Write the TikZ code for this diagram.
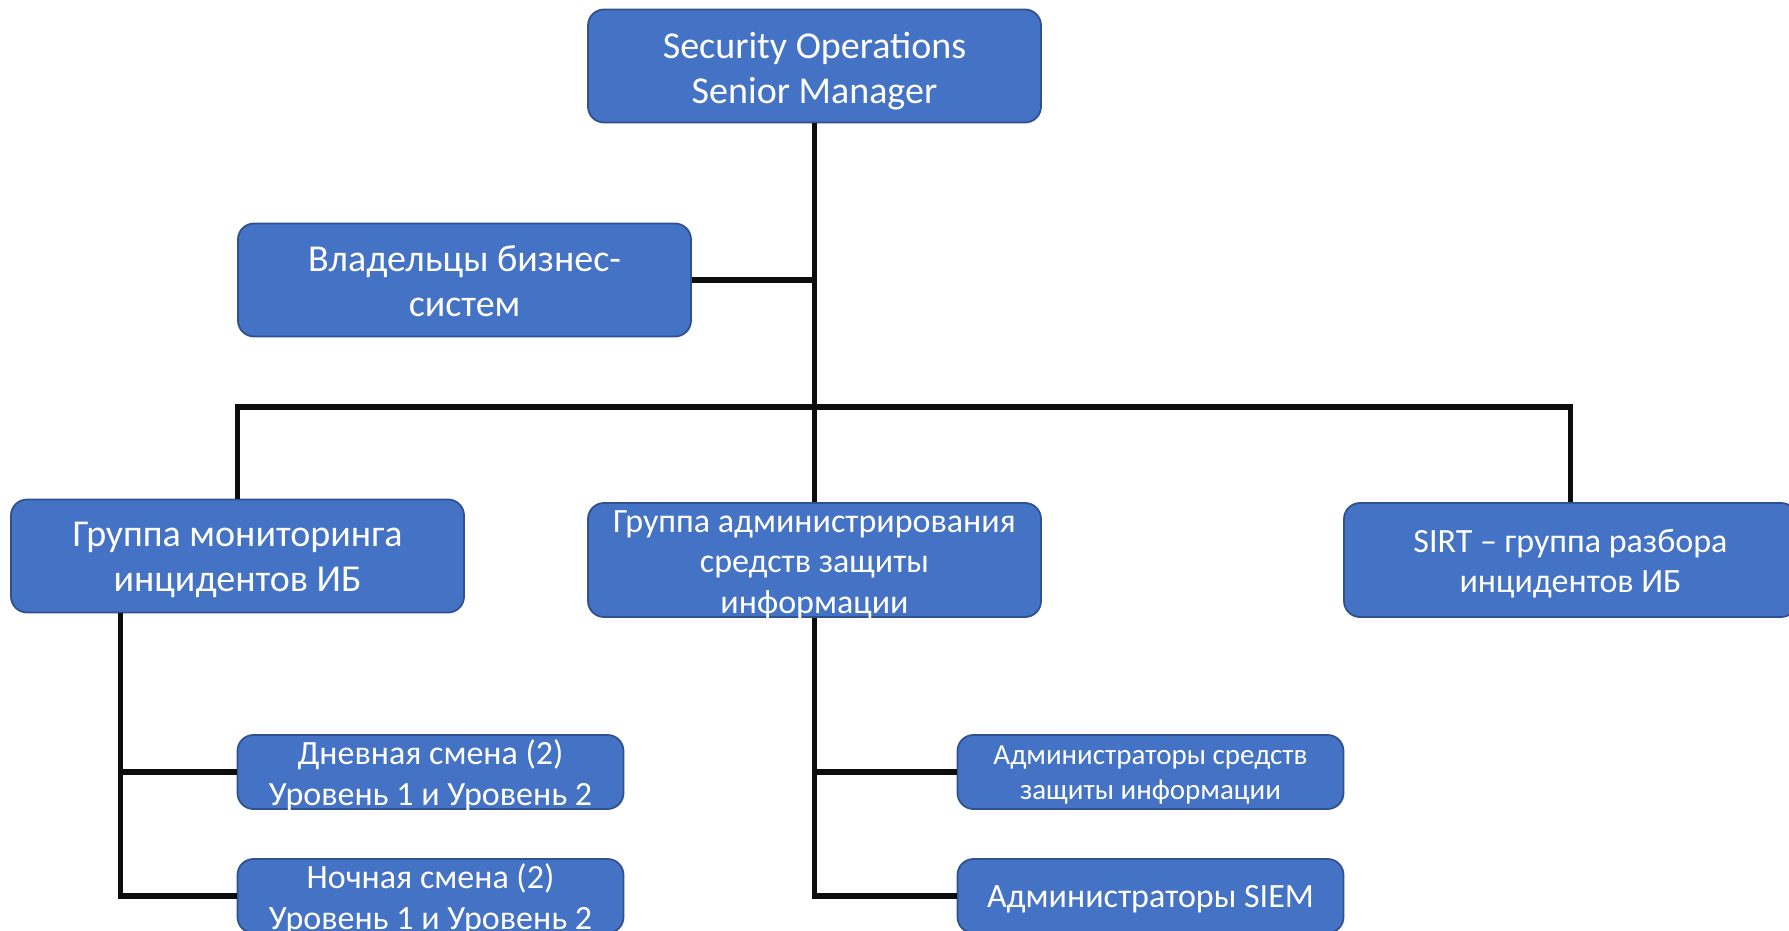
\documentclass[tikz,border=0pt]{standalone}
\usepackage{fontspec}
\setmainfont{Carlito}
\definecolor{boxfill}{HTML}{4472C4}
\definecolor{boxline}{HTML}{2F528F}
\tikzset{
  orgbox/.style={draw=boxline, line width=1.8pt, fill=boxfill, rounded corners=16pt, inner sep=0pt},
  bigbox/.style={orgbox, minimum width=453pt, minimum height=113pt},
  smallbox/.style={orgbox, minimum width=386pt, minimum height=74pt},
  boxtext/.style={text=white, align=center, inner sep=0pt},
  conn/.style={draw=black!95, line width=5.7pt, line join=miter},
  fbig/.style={font=\fontsize{38}{45.6}\selectfont},
  fmid/.style={font=\fontsize{34}{40.5}\selectfont},
  fsmall/.style={font=\fontsize{29}{35}\selectfont},
}
\begin{document}
\begin{tikzpicture}[x=1pt,y=-1pt]
\useasboundingbox (0,0) rectangle (1789,931);
% boxes
\node[bigbox] (top) at (814.5,66) {};
\node[bigbox] (own) at (464.5,280) {};
\node[bigbox] (mon) at (237.5,556) {};
\node[bigbox,minimum height=114pt] (adm) at (814.5,560) {};
\node[bigbox,minimum height=114pt] (sirt) at (1570.5,560) {};
\node[smallbox] (day) at (430.5,772) {};
\node[smallbox] (night) at (430.5,896) {};
\node[smallbox] (szi) at (1150.5,772) {};
\node[smallbox] (siem) at (1150.5,896) {};
% texts
\node[boxtext,fbig] (topT) at ([yshift=-5pt]top.center) {Security Operations\\Senior Manager};
\node[boxtext,fbig] (ownT) at ([yshift=-1pt]own.center) {Владельцы бизнес-\\систем};
\node[boxtext,fbig] (monT) at ([yshift=-4pt]mon.center) {Группа мониторинга\\инцидентов ИБ};
\node[boxtext,fmid] (admT) at ([yshift=-4.5pt]adm.center) {Группа администрирования\\средств защиты\\информации};
\node[boxtext,fmid] (sirtT) at ([yshift=-3.5pt]sirt.center) {SIRT – группа разбора\\инцидентов ИБ};
\node[boxtext,fmid] (dayT) at ([yshift=-3.5pt]day.center) {Дневная смена (2)\\Уровень 1 и Уровень 2};
\node[boxtext,fmid] (nightT) at ([yshift=-3.5pt]night.center) {Ночная смена (2)\\Уровень 1 и Уровень 2};
\node[boxtext,fsmall] (sziT) at ([yshift=-3.5pt]szi.center) {Администраторы средств\\защиты информации};
\node[boxtext,fmid] (siemT) at ([yshift=-3.5pt]siem.center) {Администраторы SIEM};
% helper coordinates
\coordinate (bus) at (814.5,407);
\coordinate (mline) at (120.5,0);
% connectors
\draw[conn] (top.south) -- (adm.north);
\draw[conn] (own.east) -- (own.east -| top.south);
\draw[conn] (mon.north) |- (bus) -| (sirt.north);
\draw[conn] (mline |- mon.south) |- (night.west);
\draw[conn] (mline |- day.west) -- (day.west);
\draw[conn] (adm.south) |- (siem.west);
\draw[conn] (adm.south |- szi.west) -- (szi.west);
\end{tikzpicture}
\end{document}
